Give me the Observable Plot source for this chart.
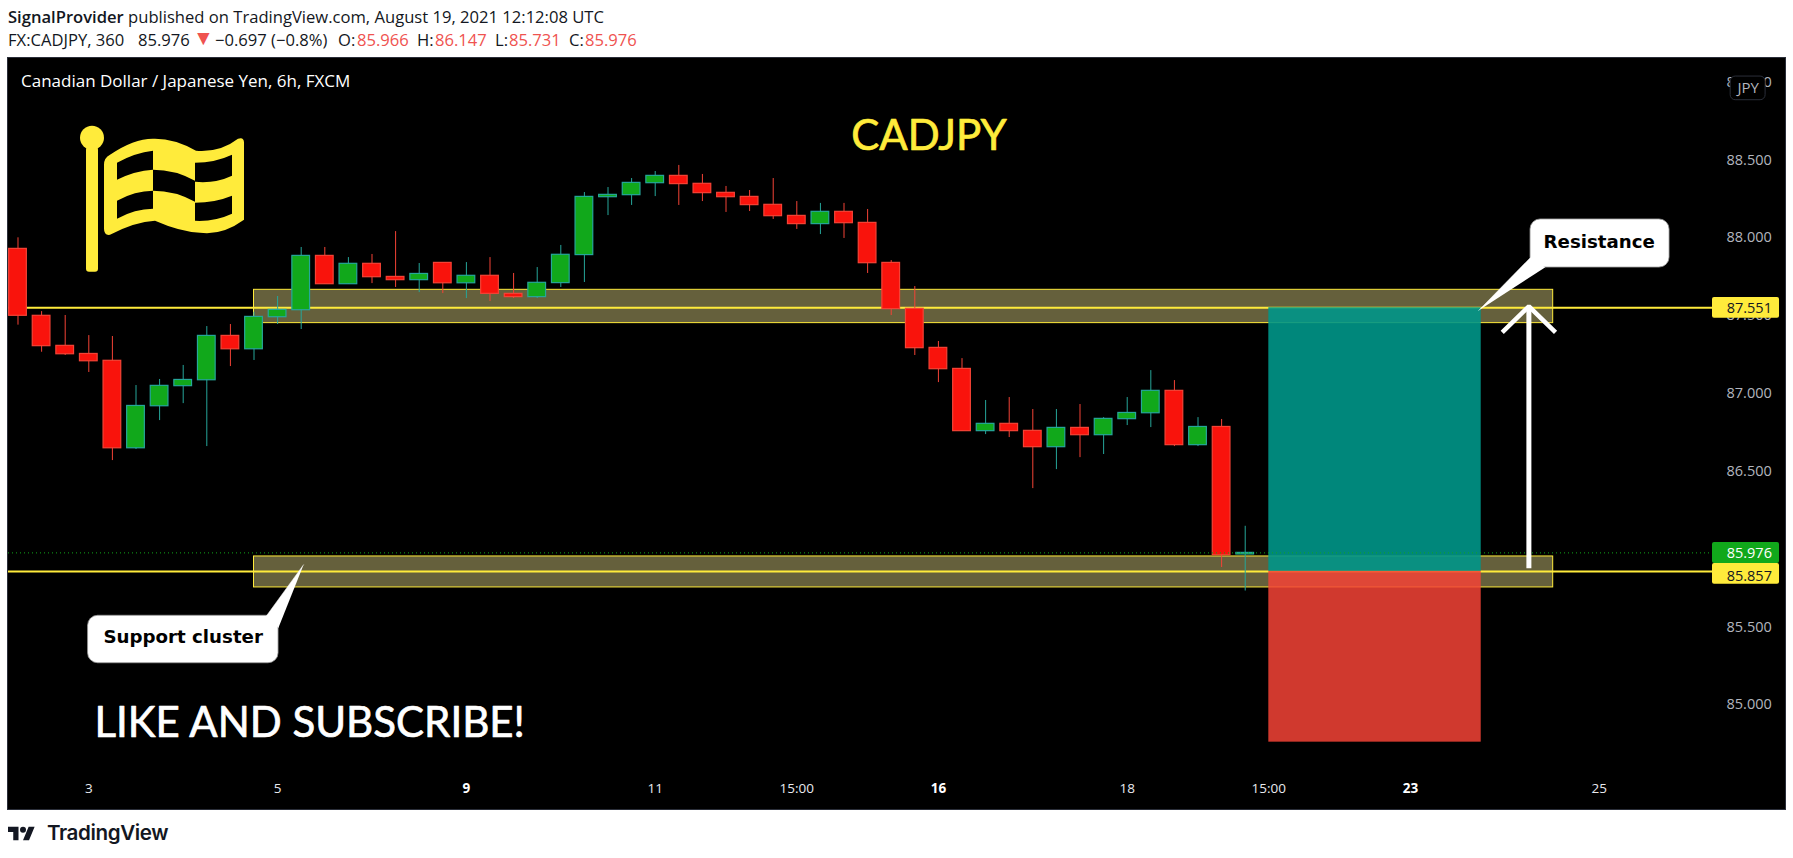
<!DOCTYPE html>
<html><head><meta charset="utf-8">
<script src="https://cdn.jsdelivr.net/npm/d3@7"></script>
<script src="https://cdn.jsdelivr.net/npm/@observablehq/plot@0.6"></script>
<style>
html,body{margin:0;padding:0;background:#fff;overflow:hidden;width:1793px;height:858px}
#head{height:58px;position:relative;font:16.6px/23px "Open Sans",sans-serif;color:#131722;white-space:pre}
#head div{position:absolute;left:8px;top:5px}
#head span{position:absolute;top:28px}
#head span.v{color:#ef5350}
#head b{font-weight:600}
#chart{margin-left:8px;width:1777px;height:751px;outline:1px solid #2a2e39}
#chart svg{display:block;max-width:none}
#foot{height:49px;position:relative;color:#131722}
#foot svg{position:absolute;left:8px;top:16px}
#foot span{position:absolute;left:47px;top:9px;font:600 20.6px/30px Inter,sans-serif;letter-spacing:-.4px}
</style></head><body>
<div id="head"><div><b>SignalProvider</b> published on TradingView.com, August 19, 2021 12:12:08 UTC</div><span style="left:8px">FX:CADJPY, 360</span><span style="left:138px">85.976</span><span class="v" style="left:193px;top:26px;font-size:21px">▼</span><span style="left:215px">−0.697 (−0.8%)</span><span style="left:338px">O:</span><span class="v" style="left:357px">85.966</span><span style="left:417px">H:</span><span class="v" style="left:435px">86.147</span><span style="left:495px">L:</span><span class="v" style="left:509px">85.731</span><span style="left:569px">C:</span><span class="v" style="left:585px">85.976</span></div>
<div id="chart"></div>
<div id="foot"><svg width="27" height="17" viewBox="0 4 36 18"><path fill="#131722" d="M14 22H7V11H0V4h14v18zM28 22h-8l7.5-18h8L28 22z"/><circle fill="#131722" cx="20" cy="8" r="4"/></svg><span>TradingView</span></div>
<script>
const opens=[87.929,87.499,87.306,87.254,87.210,86.648,86.918,87.047,87.085,87.370,87.284,87.490,87.535,87.884,87.702,87.833,87.749,87.728,87.839,87.708,87.756,87.640,87.619,87.709,87.889,88.261,88.274,88.351,88.398,88.347,88.289,88.263,88.212,88.141,88.088,88.167,88.096,87.839,87.544,87.293,87.158,86.758,86.805,86.760,86.655,86.779,86.732,86.835,86.873,87.017,86.668,86.785,85.966];
const closes=[87.499,87.304,87.252,87.207,86.648,86.920,87.049,87.087,87.370,87.284,87.492,87.537,87.884,87.702,87.833,87.747,87.728,87.768,87.708,87.756,87.640,87.619,87.711,87.891,88.263,88.276,88.353,88.398,88.345,88.287,88.261,88.210,88.139,88.088,88.167,88.094,87.837,87.542,87.291,87.156,86.758,86.805,86.758,86.655,86.779,86.732,86.837,86.875,87.017,86.668,86.785,85.961,85.976];
const highs=[88.000,87.526,87.501,87.372,87.366,87.051,87.090,87.180,87.430,87.443,87.522,87.623,87.938,87.938,87.873,87.893,88.040,87.835,87.839,87.841,87.873,87.771,87.809,87.951,88.291,88.323,88.381,88.426,88.465,88.407,88.330,88.304,88.381,88.233,88.221,88.221,88.182,87.854,87.687,87.334,87.224,86.955,86.974,86.897,86.897,86.929,86.845,86.974,87.147,87.083,86.845,86.833,86.147];
const lows=[87.439,87.265,87.244,87.135,86.569,86.640,86.826,86.935,86.659,87.173,87.212,87.443,87.411,87.702,87.702,87.706,87.681,87.648,87.642,87.610,87.591,87.610,87.610,87.681,87.713,88.143,88.208,88.265,88.208,88.233,88.163,88.169,88.118,88.054,88.021,87.996,87.771,87.501,87.244,87.070,86.758,86.736,86.717,86.389,86.511,86.588,86.608,86.794,86.781,86.659,86.659,85.882,85.731];
const priceTicks=[85,85.5,86,86.5,87,87.5,88,88.5,89];
const timeTicks=[3,11,27,33,47,53,67];
const timeLabels=["3","5","11","15:00","18","15:00","25"];
const boldTicks=[19,39,59];
const boldLabels=["9","16","23"];
const zones=[{x1:10,x2:65.05,y1:87.452,y2:87.666},{x1:10,x2:65.05,y1:85.754,y2:85.953}];
const levels=[87.551,85.857];
const lastPrice=85.976;
const tool={x1:53,x2:62,entry:85.857,target:87.551,stop:84.76};
const bars=opens.map((o,i)=>({i,o,c:closes[i],h:highs[i],l:lows[i]}));
const up=bars.filter(d=>d.c>=d.o), down=bars.filter(d=>d.c<d.o);
const RED="#f9130c",REDL="#f44336",GRN="#11a81b",TEAL="#26a69a",YEL="#ffeb3b";
const bw=0.375;
const FONT='"Open Sans",sans-serif';
const candle=(rows,fill,stroke)=>[
  Plot.ruleX(rows,{x:"i",y1:"l",y2:"h",stroke,strokeWidth:1}),
  Plot.rect(rows,{x1:d=>d.i-bw,x2:d=>d.i+bw,y1:"o",y2:"c",fill,stroke,strokeWidth:1.2})
];
const flag=(index,{x,y})=>{
  const g=d3.create("svg:g").attr("transform",`translate(${x(3.157)},${y(88.639)})`).attr("fill",YEL);
  const h=g.append("g").attr("transform","translate(-92,-138)");
  h.append("rect").attr("x",86).attr("y",147).attr("width",12).attr("height",125).attr("rx",3);
  h.append("circle").attr("cx",92).attr("cy",138).attr("r",12);
  h.append("path").attr("fill-rule","evenodd").attr("d",
   "M104 165Q104 158 110 155Q135 138 155 139Q175 139 196 151Q220 153 238 139Q244 137 244 143L244 220Q222 236 200 233Q180 232 155 221Q135 222 110 235Q104 236 104 229Z"+
   "M117 163Q135 153 153 151L153 170Q135 171 117 180Z"+
   "M153 170Q175 170 195 181L195 202Q175 191 153 191Z"+
   "M195 163Q215 163 232 155L232 176Q215 184 195 182Z"+
   "M117 201Q135 191 153 191L153 209Q135 209 117 219Z"+
   "M195 203Q215 203 232 196L232 214Q215 222 195 221Z");
  return g.node();
};
const txt=(s,x,y,o)=>Plot.text([s],{x:()=>x,y:()=>y,text:d=>d,fontFamily:FONT,...o});
const plot=Plot.plot({
  width:1777,height:751,marginLeft:0,marginTop:0,marginRight:73,marginBottom:39,
  style:{background:"#000",fontFamily:FONT},
  x:{type:"linear",domain:[-0.4025,71.8],axis:null},
  y:{type:"linear",domain:[84.578,89.152],axis:null},
  marks:[
    Plot.axisY({anchor:"right",ticks:priceTicks,tickSize:0,tickPadding:14,tickFormat:d3.format(".3f"),fill:"#b2b5be",fontSize:14.5,label:null}),
    Plot.axisX({anchor:"bottom",ticks:timeTicks,tickFormat:d=>timeLabels[timeTicks.indexOf(d)],tickSize:0,tickPadding:13,fill:"#e8e9ee",fontSize:13.5,label:null}),
    Plot.axisX({anchor:"bottom",ticks:boldTicks,tickFormat:d=>boldLabels[boldTicks.indexOf(d)],tickSize:0,tickPadding:13,fill:"#fff",fontSize:13.5,fontWeight:700,label:null}),
    Plot.rect(zones,{x1:"x1",x2:"x2",y1:"y1",y2:"y2",fill:"#65603c",stroke:YEL,strokeWidth:1}),
    Plot.ruleY(levels,{stroke:YEL,strokeWidth:2}),
    ...candle(up,GRN,TEAL),
    ...candle(down,RED,REDL),
    Plot.rect([tool],{x1:"x1",x2:"x2",y1:"entry",y2:"target",fill:"#009688",fillOpacity:.9}),
    Plot.rect([tool],{x1:"x1",x2:"x2",y1:"stop",y2:"entry",fill:"#f44336",fillOpacity:.85}),
    Plot.ruleY([lastPrice],{stroke:GRN,strokeWidth:1,strokeDasharray:"1,3"}),
    // arrow
    Plot.line([[64.02,85.878],[64.02,87.56]],{x:d=>d[0],y:d=>d[1],stroke:"#fff",strokeWidth:5,strokeLinecap:"butt"}),
    Plot.line([[62.89,87.392],[64.02,87.56],[65.15,87.392]],{x:d=>d[0],y:d=>d[1],stroke:"#fff",strokeWidth:4.5,strokeLinecap:"butt",strokeLinejoin:"miter"}),
    // callouts
    Plot.rect([{x1:64.09,x2:69.98,y1:87.809,y2:88.118}],{x1:"x1",x2:"x2",y1:"y1",y2:"y2",fill:"#fff",stroke:"#9a9a9a",strokeWidth:.8,rx:10}),
    Plot.line([[61.89,87.533],[64.09,87.874],[64.7,87.809]],{x:d=>d[0],y:d=>d[1],fill:"#fff",stroke:"#fff",strokeWidth:.5}),
    Plot.rect([{x1:2.97,x2:11.04,y1:85.267,y2:85.572}],{x1:"x1",x2:"x2",y1:"y1",y2:"y2",fill:"#fff",stroke:"#9a9a9a",strokeWidth:.8,rx:10}),
    Plot.line([[12.1,85.9],[10.53,85.572],[11.04,85.497]],{x:d=>d[0],y:d=>d[1],fill:"#fff",stroke:"#fff",strokeWidth:.5}),
    txt("Resistance",67.0,87.975,{fill:"#000",fontFamily:"DejaVu Sans",fontWeight:700,fontSize:18.2,textAnchor:"middle"}),
    txt("Support cluster",7.0,85.433,{fill:"#000",fontFamily:"DejaVu Sans",fontWeight:700,fontSize:18.2,textAnchor:"middle"}),
    // price labels
    Plot.rect([{y1:87.483,y2:87.616,f:YEL},{y1:85.775,y2:85.908,f:YEL},{y1:85.908,y2:86.043,f:GRN}],{x1:()=>71.8,x2:()=>74.64,y1:"y1",y2:"y2",fill:d=>d.f,rx:2}),
    txt("87.551",72.4,87.546,{fill:"#131722",fontSize:14.5,textAnchor:"start"}),
    txt("85.857",72.4,85.822,{fill:"#131722",fontSize:14.5,textAnchor:"start"}),
    txt("85.976",72.4,85.976,{fill:"#fff",fontSize:14.5,textAnchor:"start"}),
    // JPY badge
    Plot.rect([{x1:72.57,x2:74.05,y1:88.884,y2:89.036}],{x1:"x1",x2:"x2",y1:"y1",y2:"y2",fill:"#000",stroke:"#2a2e39",rx:5}),
    txt("JPY",73.31,88.96,{fill:"#b2b5be",fontSize:15,textAnchor:"middle"}),
    // text
    txt("Canadian Dollar / Japanese Yen, 6h, FXCM",0.127,89.004,{fill:"#fff",fontSize:17,textAnchor:"start"}),
    txt("CADJPY",38.6,88.651,{fill:YEL,stroke:YEL,strokeWidth:.7,fontFamily:"Lato",fontSize:42,textAnchor:"middle"}),
    txt("LIKE AND SUBSCRIBE!",3.24,84.882,{fill:"#fff",stroke:"#fff",strokeWidth:.7,fontFamily:"Lato",fontSize:42,textAnchor:"start"}),
    flag
  ]
});
document.getElementById("chart").append(plot);
</script>
</body></html>
